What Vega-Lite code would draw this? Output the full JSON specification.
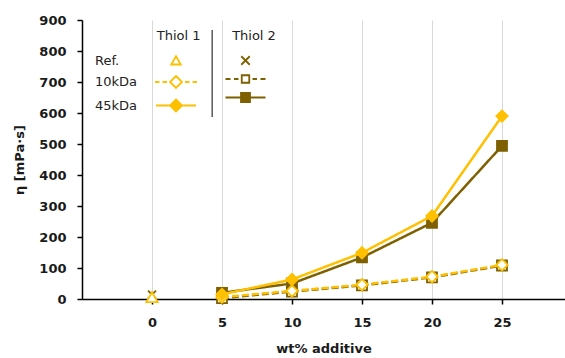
{
  "$schema": "https://vega.github.io/schema/vega-lite/v6.json",
  "width": 483,
  "height": 279,
  "autosize": {"type": "none"},
  "padding": {"left": 82, "top": 20, "right": 0, "bottom": 59},
  "background": "white",
  "config": {
    "font": "DejaVu Sans",
    "view": {"stroke": null},
    "axis": {
      "domainColor": "#000000",
      "domainWidth": 1.5,
      "tickColor": "#000000",
      "tickWidth": 1.5,
      "tickSize": 5,
      "labelFont": "DejaVu Sans",
      "labelFontSize": 13,
      "labelFontWeight": "bold",
      "labelColor": "#1a1a1a",
      "titleFont": "DejaVu Sans",
      "titleFontSize": 13,
      "titleFontWeight": "bold",
      "titleColor": "#1a1a1a",
      "labelFlush": false,
      "labelOverlap": false
    }
  },
  "data": {
    "values": [
      {"thiol": "Thiol 1", "mw": "Ref.", "wt": 0, "eta": 6},
      {"thiol": "Thiol 1", "mw": "10kDa", "wt": 5, "eta": 6},
      {"thiol": "Thiol 1", "mw": "10kDa", "wt": 10, "eta": 26},
      {"thiol": "Thiol 1", "mw": "10kDa", "wt": 15, "eta": 46},
      {"thiol": "Thiol 1", "mw": "10kDa", "wt": 20, "eta": 72},
      {"thiol": "Thiol 1", "mw": "10kDa", "wt": 25, "eta": 110},
      {"thiol": "Thiol 1", "mw": "45kDa", "wt": 5, "eta": 15},
      {"thiol": "Thiol 1", "mw": "45kDa", "wt": 10, "eta": 63},
      {"thiol": "Thiol 1", "mw": "45kDa", "wt": 15, "eta": 149},
      {"thiol": "Thiol 1", "mw": "45kDa", "wt": 20, "eta": 268},
      {"thiol": "Thiol 1", "mw": "45kDa", "wt": 25, "eta": 590},
      {"thiol": "Thiol 2", "mw": "Ref.", "wt": 0, "eta": 14},
      {"thiol": "Thiol 2", "mw": "10kDa", "wt": 5, "eta": 3},
      {"thiol": "Thiol 2", "mw": "10kDa", "wt": 10, "eta": 24},
      {"thiol": "Thiol 2", "mw": "10kDa", "wt": 15, "eta": 44},
      {"thiol": "Thiol 2", "mw": "10kDa", "wt": 20, "eta": 70},
      {"thiol": "Thiol 2", "mw": "10kDa", "wt": 25, "eta": 108},
      {"thiol": "Thiol 2", "mw": "45kDa", "wt": 5, "eta": 20},
      {"thiol": "Thiol 2", "mw": "45kDa", "wt": 10, "eta": 50},
      {"thiol": "Thiol 2", "mw": "45kDa", "wt": 15, "eta": 134},
      {"thiol": "Thiol 2", "mw": "45kDa", "wt": 20, "eta": 246},
      {"thiol": "Thiol 2", "mw": "45kDa", "wt": 25, "eta": 494}
    ]
  },
  "encoding": {
    "x": {
      "field": "wt",
      "type": "quantitative",
      "scale": {"domain": [-5, 29.5], "nice": false, "zero": false},
      "axis": {
        "values": [0, 5, 10, 15, 20, 25],
        "title": "wt% additive",
        "grid": true,
        "gridColor": "#d9d9d9",
        "gridWidth": 1,
        "labelPadding": 12,
        "titlePadding": 13
      }
    },
    "y": {
      "field": "eta",
      "type": "quantitative",
      "scale": {"domain": [0, 900], "nice": false},
      "axis": {
        "values": [0, 100, 200, 300, 400, 500, 600, 700, 800, 900],
        "title": "η [mPa·s]",
        "grid": false,
        "labelPadding": 11,
        "titlePadding": 12
      }
    }
  },
  "layer": [
    {
      "transform": [{"filter": "datum.thiol === 'Thiol 1' && datum.mw === 'Ref.'"}],
      "mark": {"type": "rule", "color": "#595959", "strokeWidth": 1.5},
      "encoding": {
        "x": {"datum": 4.3, "type": "quantitative"},
        "y": {"datum": 868, "type": "quantitative"},
        "y2": {"datum": 587}
      }
    },
    {
      "transform": [{"filter": "datum.thiol === 'Thiol 2'"}],
      "layer": [
        {
          "mark": {"type": "line", "color": "#7F6000", "strokeWidth": 2.5},
          "encoding": {
            "strokeDash": {
              "field": "mw",
              "type": "nominal",
              "scale": {"domain": ["10kDa", "45kDa", "Ref."], "range": [[7, 3], [1, 0], [1, 0]]},
              "legend": null
            }
          }
        },
        {
          "mark": {"type": "point", "stroke": "#7F6000", "strokeWidth": 1.8, "size": 100, "opacity": 1, "filled": false},
          "encoding": {
            "shape": {
              "field": "mw",
              "type": "nominal",
              "scale": {"domain": ["45kDa", "10kDa", "Ref."], "range": ["square", "square", "M-0.8,-0.8L0.8,0.8M0.8,-0.8L-0.8,0.8"]},
              "legend": null
            },
            "fill": {
              "field": "mw",
              "type": "nominal",
              "scale": {"domain": ["45kDa", "10kDa", "Ref."], "range": ["#7F6000", "white", "white"]},
              "legend": null
            }
          }
        },
        {
          "mark": {"type": "point", "stroke": "#7F6000", "strokeWidth": 1.8, "size": 0, "filled": false},
          "encoding": {
            "shape": {
              "field": "mw",
              "type": "nominal",
              "scale": {
                "domain": ["Ref.", "10kDa", "45kDa"],
                "range": [
                  "M-0.85,-0.85L0.85,0.85M0.85,-0.85L-0.85,0.85",
                  "M-4,0H-3M-2.3,0H-1.4M1.4,0H2.3M3,0H4M-0.75,-0.75H0.75V0.75H-0.75Z",
                  "M-4,0H-0.9M0.9,0H4M-0.9,-0.9H0.9V0.9H-0.9Z"
                ]
              },
              "legend": {
                "orient": "none",
                "legendX": 150,
                "legendY": 10,
                "title": "Thiol 2",
                "titleFontWeight": "normal",
                "titleFontSize": 13,
                "titleColor": "#222222",
                "titleAnchor": "middle",
                "titlePadding": 11,
                "labelExpr": "''",
                "labelFontSize": 13,
                "symbolSize": 100,
                "symbolStrokeWidth": 1.8,
                "symbolOpacity": 1,
                "rowPadding": 2.5,
                "padding": 0
              }
            },
            "fill": {
              "field": "mw",
              "type": "nominal",
              "scale": {"domain": ["Ref.", "10kDa", "45kDa"], "range": ["white", "white", "#7F6000"]}
            }
          }
        }
      ],
      "resolve": {"scale": {"shape": "independent", "fill": "independent"}}
    },
    {
      "transform": [{"filter": "datum.thiol === 'Thiol 1'"}],
      "layer": [
        {
          "mark": {"type": "line", "color": "#FFC000", "strokeWidth": 2.5},
          "encoding": {
            "strokeDash": {
              "field": "mw",
              "type": "nominal",
              "scale": {"domain": ["10kDa", "45kDa", "Ref."], "range": [[7, 3], [1, 0], [1, 0]]},
              "legend": null
            }
          }
        },
        {
          "mark": {"type": "point", "stroke": "#FFC000", "strokeWidth": 1.8, "size": 130, "opacity": 1, "filled": false},
          "encoding": {
            "shape": {
              "field": "mw",
              "type": "nominal",
              "scale": {"domain": ["45kDa", "10kDa", "Ref."], "range": ["diamond", "diamond", "triangle-up"]},
              "legend": null
            },
            "fill": {
              "field": "mw",
              "type": "nominal",
              "scale": {"domain": ["45kDa", "10kDa", "Ref."], "range": ["#FFC000", "white", "white"]},
              "legend": null
            }
          }
        },
        {
          "mark": {"type": "point", "stroke": "#FFC000", "strokeWidth": 1.8, "size": 0, "filled": false},
          "encoding": {
            "shape": {
              "field": "mw",
              "type": "nominal",
              "scale": {
                "domain": ["Ref.", "10kDa", "45kDa"],
                "range": [
                  "M0,-0.85L0.95,0.8L-0.95,0.8Z",
                  "M-4.2,0H-3.3M-2.7,0H-1.8M1.8,0H2.7M3.3,0H4.2M0,-1.2L1.2,0L0,1.2L-1.2,0Z",
                  "M-4,0H-1.2M1.2,0H4M0,-1.2L1.2,0L0,1.2L-1.2,0Z"
                ]
              },
              "legend": {
                "orient": "none",
                "legendX": 74.5,
                "legendY": 10,
                "title": "Thiol 1",
                "titleFontWeight": "normal",
                "titleFontSize": 13,
                "titleColor": "#222222",
                "titleAnchor": "end",
                "titlePadding": 11,
                "labelFontSize": 13,
                "labelColor": "#222222",
                "labelAlign": "left",
                "labelOffset": -87.5,
                "symbolSize": 100,
                "symbolStrokeWidth": 1.8,
                "symbolOpacity": 1,
                "rowPadding": 2.5,
                "padding": 0
              }
            },
            "fill": {
              "field": "mw",
              "type": "nominal",
              "scale": {"domain": ["Ref.", "10kDa", "45kDa"], "range": ["white", "white", "#FFC000"]}
            }
          }
        }
      ],
      "resolve": {"scale": {"shape": "independent", "fill": "independent"}}
    }
  ],
  "resolve": {
    "scale": {"shape": "independent", "fill": "independent", "strokeDash": "independent"}
  }
}
